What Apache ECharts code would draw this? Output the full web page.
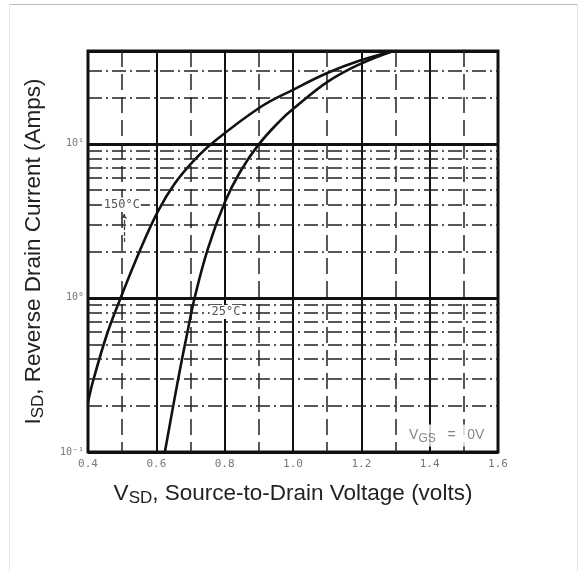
<!DOCTYPE html>
<html>
<head>
<meta charset="utf-8">
<script src="https://cdn.jsdelivr.net/npm/echarts@6/dist/echarts.min.js"></script>
<style>
html,body{margin:0;padding:0;background:#fff;}
#chart{width:580px;height:571px;}
</style>
</head>
<body>
<div id="chart"></div>
<script>
// ---- data ----
const v150 = [0.400, 0.415, 0.456, 0.494, 0.552, 0.605, 0.655, 0.707, 0.766, 0.903, 1.000, 1.102, 1.196, 1.287];
const i150 = [0.21, 0.29, 0.585, 0.98, 2.03, 3.66, 5.56, 7.67, 10.2, 17.2, 22.4, 28.9, 34.7, 39.6];
const v25 = [0.625, 0.663, 0.690, 0.713, 0.751, 0.801, 0.845, 0.898, 0.962, 1.000, 1.102, 1.196, 1.287];
const i25 = [0.1, 0.29, 0.583, 1.02, 2.09, 4.2, 6.56, 9.8, 14.1, 16.8, 25.3, 32.9, 39.6];
const minorY = [0.2, 0.3, 0.4, 0.5, 0.6, 0.7, 0.8, 0.9, 2, 3, 4, 5, 6, 7, 8, 9, 20, 30];
const yTickLabels = { '-1': '10\u207B\u00B9', '0': '10\u2070', '1': '10\u00B9' };
const curveNames = ['150°C', '25°C'];
const noteV = [0.499, 0.804];
const noteI = [4.03, 0.81];
const pointerV = [0.505, 0.505];
const pointerI = [3.5, 2.25];
const condV = 1.45, condI = 0.128;

const chart = echarts.init(document.getElementById('chart'), null, { renderer: 'canvas' });
const pair = (xs, ys) => xs.map((x, k) => [x, ys[k]]);
const tickFont = 'DejaVu Sans Mono';
const titleRich = {
  a: { fontFamily: 'Liberation Sans', fontSize: 22.5, color: '#222', lineHeight: 27 },
  s: { fontFamily: 'Liberation Sans', fontSize: 17, color: '#222', lineHeight: 15, verticalAlign: 'bottom' }
};

const option = {
  animation: false,
  backgroundColor: '#fff',
  grid: { left: 88, right: 82, top: 51, bottom: 119, show: true, borderColor: '#111', borderWidth: 3, backgroundColor: 'transparent' },
  xAxis: {
    type: 'value', min: 0.4, max: 1.6, interval: 0.2,
    name: '{a|V}{s|SD}{a|, Source-to-Drain Voltage (volts)}',
    nameLocation: 'middle', nameGap: 28,
    nameTextStyle: { rich: titleRich },
    axisLine: { show: false }, axisTick: { show: false },
    axisLabel: { margin: 7, color: '#777', fontFamily: tickFont, fontSize: 11, formatter: v => v.toFixed(1) },
    splitLine: { show: true, lineStyle: { color: '#111', width: 2 } },
    minorTick: { show: false, splitNumber: 2 },
    minorSplitLine: { show: true, lineStyle: { color: '#222', width: 1.5, type: [16, 7] } }
  },
  yAxis: {
    type: 'log', logBase: 10, min: 0.1, max: 40,
    name: '{a|I}{s|SD}{a|, Reverse Drain Current (Amps)}',
    nameLocation: 'middle', nameGap: 41, nameRotate: 90,
    nameTextStyle: { rich: titleRich },
    axisLine: { show: false }, axisTick: { show: false },
    axisLabel: {
      margin: 4, color: '#777', fontFamily: tickFont, fontSize: 10,
      formatter: v => { const e = Math.round(Math.log10(v)); return Math.abs(Math.log10(v) - e) < 1e-6 && yTickLabels[String(e)] ? yTickLabels[String(e)] : ''; }
    },
    splitLine: { show: true, lineStyle: { color: '#111', width: 3 } }
  },
  series: [
    {
      type: 'line', name: 'grid', data: [], silent: true,
      markLine: {
        silent: true, symbol: ['none', 'none'], animation: false,
        label: { show: false },
        lineStyle: { color: '#222', width: 1.6, type: [14, 4, 2, 4] },
        data: minorY.map(y => ({ yAxis: y }))
      }
    },
    {
      type: 'line', name: curveNames[0], data: pair(v150, i150),
      smooth: 0.4, showSymbol: false, symbol: 'none',
      lineStyle: { color: '#111', width: 2.6 },
      markPoint: {
        symbol: 'rect', symbolSize: 0,
        label: { show: true, color: '#555', fontFamily: tickFont, fontSize: 12, backgroundColor: '#fff', padding: [1, 1], formatter: p => p.name },
        data: [{ name: curveNames[0], coord: [noteV[0], noteI[0]] }]
      },
      markLine: {
        silent: true, symbol: ['arrow', 'none'], symbolSize: 5,
        label: { show: false },
        lineStyle: { color: '#444', width: 1.3, type: [4, 2] },
        data: [[{ coord: [pointerV[0], pointerI[0]] }, { coord: [pointerV[1], pointerI[1]] }]]
      }
    },
    {
      type: 'line', name: curveNames[1], data: pair(v25, i25),
      smooth: 0.4, showSymbol: false, symbol: 'none',
      lineStyle: { color: '#111', width: 2.6 },
      markPoint: {
        symbol: 'rect', symbolSize: 0,
        label: { show: true, color: '#555', fontFamily: tickFont, fontSize: 12, backgroundColor: '#fff', padding: [1, 2], formatter: p => p.name },
        data: [{ name: curveNames[1], coord: [noteV[1], noteI[1]] }]
      }
    },
    {
      type: 'scatter', name: 'condition', data: [[condV, condI]], symbolSize: 0, silent: true,
      label: {
        show: true, position: 'inside', backgroundColor: '#fff', padding: [2, 4],
        formatter: '{a|V}{s|GS}{a|   =   0V}',
        rich: {
          a: { fontFamily: 'Liberation Sans', fontSize: 14, color: '#666', lineHeight: 18 },
          s: { fontFamily: 'Liberation Sans', fontSize: 12, color: '#666', lineHeight: 10, verticalAlign: 'bottom' }
        }
      }
    }
  ],
  graphic: [
    { type: 'line', silent: true, shape: { x1: 9, y1: 4.5, x2: 577, y2: 4.5 }, style: { stroke: '#bdbdbd', lineWidth: 1 } },
    { type: 'line', silent: true, shape: { x1: 9.5, y1: 4, x2: 9.5, y2: 571 }, style: { stroke: '#e6e6e6', lineWidth: 1 } },
    { type: 'line', silent: true, shape: { x1: 577.5, y1: 4, x2: 577.5, y2: 571 }, style: { stroke: '#e0e0e0', lineWidth: 1 } }
  ]
};
chart.setOption(option);
</script>
</body>
</html>
